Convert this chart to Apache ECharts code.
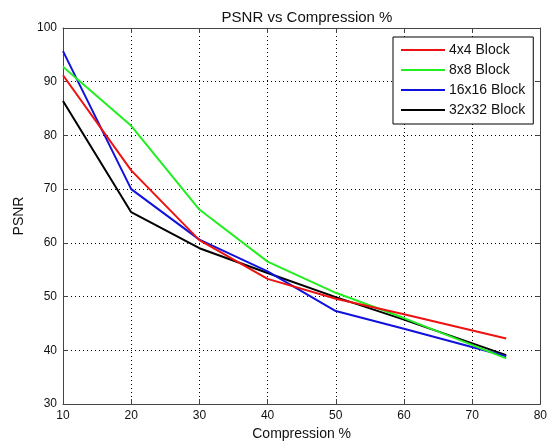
<!DOCTYPE html>
<html>
<head>
<meta charset="utf-8">
<script src="https://cdn.jsdelivr.net/npm/echarts@6/dist/echarts.min.js"></script>
<style>html,body{margin:0;padding:0;background:#fff}#c{width:550px;height:448px}</style>
</head>
<body>
<div id="c"></div>
<script>
var xValues = [10, 20, 30, 40, 50, 60, 75];
var seriesNames = ['4x4 Block', '8x8 Block', '16x16 Block', '32x32 Block'];
var block4 = [91.2, 73.5, 60.5, 53.3, 49.6, 46.7, 42.2];
var block8 = [92.8, 81.8, 66.2, 56.5, 50.7, 46.0, 38.5];
var block16 = [95.7, 70.0, 60.6, 54.7, 47.3, 44.0, 38.9];
var block32 = [86.4, 65.7, 59.0, 54.4, 49.9, 45.7, 39.1];
var colors = ['#ee1111', '#22ee22', '#1111dd', '#000000'];

var allValues = [block4, block8, block16, block32];
function pairs(vals) { return xValues.map(function (x, i) { return [x, vals[i]]; }); }

var font = 'Arial, "Liberation Sans", sans-serif';
var chart = echarts.init(document.getElementById('c'), null, {renderer: 'canvas'});
var axisCol = '#444';
var baseX = {
  type: 'value', min: 10, max: 80, interval: 10,
  axisLine: {show: true, onZero: false, lineStyle: {color: axisCol, width: 1}},
  axisTick: {show: true, inside: true, length: 5, lineStyle: {color: axisCol}},
  splitLine: {show: false}
};
var baseY = {
  type: 'value', min: 30, max: 100, interval: 10,
  axisLine: {show: true, onZero: false, lineStyle: {color: axisCol, width: 1}},
  axisTick: {show: true, inside: true, length: 5, lineStyle: {color: axisCol}},
  splitLine: {show: false}
};
var option = {
  backgroundColor: '#fff',
  animation: false,
  title: {
    text: 'PSNR vs Compression %', left: 302, top: 5, textAlign: 'center',
    textStyle: {fontFamily: font, fontSize: 15, fontWeight: 'normal', color: '#111'}
  },
  grid: {left: 63, top: 28, right: 8, bottom: 44},
  legend: {
    orient: 'vertical', left: 393, top: 37,
    data: seriesNames,
    icon: 'rect', itemWidth: 44, itemHeight: 2, itemGap: 6,
    padding: [6, 8, 7, 8],
    borderColor: '#000', borderWidth: 1, backgroundColor: '#fff',
    textStyle: {fontFamily: font, fontSize: 14, color: '#111', padding: [0, 0, 0, -1]}
  },
  xAxis: [
    Object.assign({}, baseX, {
      position: 'bottom',
      name: 'Compression %', nameLocation: 'middle', nameGap: 22,
      nameTextStyle: {fontFamily: font, fontSize: 14, color: '#111'},
      axisLabel: {fontFamily: font, fontSize: 12, color: '#111', margin: 6},
      splitLine: {show: true, lineStyle: {color: '#000', type: [1, 3], width: 1}}
    }),
    Object.assign({}, baseX, {position: 'top', axisLabel: {show: false}})
  ],
  yAxis: [
    Object.assign({}, baseY, {
      position: 'left',
      name: 'PSNR', nameLocation: 'middle', nameGap: 36,
      nameTextStyle: {fontFamily: font, fontSize: 14, color: '#111'},
      axisLabel: {fontFamily: font, fontSize: 12, color: '#111', margin: 6},
      splitLine: {show: true, lineStyle: {color: '#000', type: [1, 3], width: 1}}
    }),
    Object.assign({}, baseY, {position: 'right', axisLabel: {show: false}})
  ],
  series: seriesNames.map(function (n, i) {
    return {
      name: n, type: 'line', data: pairs(allValues[i]),
      symbol: 'none', showSymbol: false,
      lineStyle: {color: colors[i], width: 2},
      itemStyle: {color: colors[i]},
      z: 10 - i
    };
  })
};
chart.setOption(option);
</script>
</body>
</html>
